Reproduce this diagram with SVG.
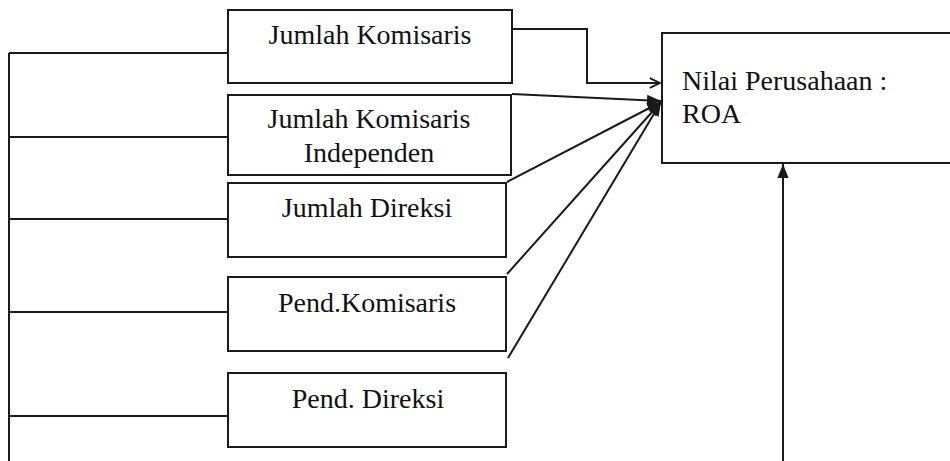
<svg xmlns="http://www.w3.org/2000/svg" width="950" height="461" viewBox="0 0 950 461">
<style>
.box{fill:#fff;stroke:#1a1a1a;stroke-width:2}
.ln{fill:none;stroke:#1a1a1a;stroke-width:2}
text{font-family:'Liberation Serif','Times New Roman',serif;font-size:28px;fill:#111}
.c{text-anchor:middle}
</style>
<defs>
<marker id="fa" viewBox="0 0 10 10" refX="10" refY="5" markerWidth="7" markerHeight="7" orient="auto" markerUnits="strokeWidth">
<path d="M0,1 L10,5 L0,9 Z" fill="#1a1a1a"/>
</marker>
<marker id="oa" viewBox="0 0 10 10" refX="9.5" refY="5" markerWidth="6" markerHeight="6" orient="auto" markerUnits="strokeWidth">
<path d="M1,1 L9.5,5 L1,9" fill="none" stroke="#1a1a1a" stroke-width="1.6"/>
</marker>
</defs>
<rect width="950" height="461" fill="#fff"/>
<g id="connectors">
<path class="ln" d="M9,53 V461"/>
<path class="ln" d="M9,53 H228"/>
<path class="ln" d="M9,137 H228"/>
<path class="ln" d="M9,219 H228"/>
<path class="ln" d="M9,312 H228"/>
<path class="ln" d="M9,416 H228"/>
<path class="ln" d="M512,29 H587 V83 H660" marker-end="url(#oa)"/>
<path class="ln" d="M512,94 L661,101" marker-end="url(#fa)"/>
<path class="ln" d="M507,182 L661,102" marker-end="url(#fa)"/>
<path class="ln" d="M507,274 L661,102" marker-end="url(#fa)"/>
<path class="ln" d="M508,358 L661,102" marker-end="url(#fa)"/>
<path class="ln" d="M783,461 V164" marker-end="url(#fa)"/>
</g>
<g id="n1">
<rect class="box" x="228" y="10" width="284" height="73"/>
<text class="c" x="370" y="44">Jumlah Komisaris</text>
</g>
<g id="n2">
<rect class="box" x="228" y="95" width="283" height="80"/>
<text class="c" x="369" y="128">Jumlah Komisaris</text>
<text class="c" x="369" y="162">Independen</text>
</g>
<g id="n3">
<rect class="box" x="228" y="183" width="278" height="74"/>
<text class="c" x="367" y="217">Jumlah Direksi</text>
</g>
<g id="n4">
<rect class="box" x="228" y="277" width="278" height="74"/>
<text class="c" x="367" y="312">Pend.Komisaris</text>
</g>
<g id="n5">
<rect class="box" x="228" y="373" width="278" height="74"/>
<text class="c" x="368" y="408">Pend. Direksi</text>
</g>
<g id="target">
<rect class="box" x="662" y="33" width="300" height="130"/>
<text x="682" y="90">Nilai Perusahaan :</text>
<text x="682" y="123">ROA</text>
</g>
</svg>
